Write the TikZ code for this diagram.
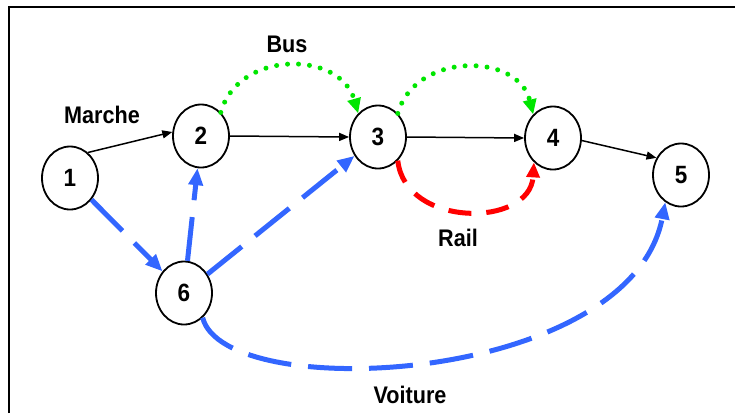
\documentclass[tikz,border=0pt]{standalone}
\usepackage{fontspec}
\setmainfont{Liberation Sans}
\usetikzlibrary{shapes.geometric,arrows.meta}

\definecolor{busgreen}{RGB}{0,230,0}
\definecolor{carblue}{RGB}{51,102,255}
\definecolor{railred}{RGB}{255,0,0}

\tikzset{
  stop/.style={ellipse, draw, line width=1.8pt, fill=white,
    minimum width=56pt, minimum height=63pt, inner sep=0pt,
    font=\fontsize{25}{25}\selectfont\bfseries},
  modelabel/.style={anchor=base, inner sep=0pt,
    font=\fontsize{24}{24}\selectfont\bfseries},
  walk/.style={line width=1.5pt, -{Triangle[length=10pt,width=8pt]}},
  busline/.style={busgreen, line width=5pt, line cap=round,
    dash pattern=on 0pt off 11pt, -{Triangle[length=15pt,width=13pt]}},
  railline/.style={railred, line width=5pt,
    dash pattern=on 23pt off 15pt, -{Triangle[length=15pt,width=13pt]}},
  carline/.style={carblue, line width=5pt,
    dash pattern=on 44pt off 17pt, -{Triangle[length=17pt,width=14pt]}}
}

\newcommand{\narrow}[1]{\scalebox{0.9}[1]{#1}}

\begin{document}
\begin{tikzpicture}[x=1pt, y=-1pt]
  \useasboundingbox (0,0) rectangle (735,413);

  % frame (top and left edges only)
  \draw[line width=2pt] (9,413) -- (9,7) -- (735,7);

  % stops
  \node[stop] (n1) at (70,178) {\narrow{1}};
  \node[stop] (n2) at (201,136) {\narrow{2}};
  \node[stop] (n3) at (378,137) {\narrow{3}};
  \node[stop] (n4) at (553,138) {\narrow{4}};
  \node[stop] (n5) at (681,175) {\narrow{5}};
  \node[stop] (n6) at (184,293) {\narrow{6}};

  % mode labels
  \node[modelabel] (lmarche) at (102,123) {\narrow{Marche}};
  \node[modelabel] (lbus) at (287,52) {\narrow{Bus}};
  \node[modelabel] (lrail) at (458,246) {\narrow{Rail}};
  \node[modelabel] (lvoiture) at (410,403) {\narrow{Voiture}};

  % walking links
  \draw[walk] (n1.55) -- (n2.172);
  \draw[walk] (n2.east) -- (n3.west);
  \draw[walk] (n3.east) -- (n4.west);
  \draw[walk] (n4.355) -- (n5.145);

  % bus links
  \draw[busline] (n2.50) .. controls (238,50) and (340,50) .. (n3.130);
  \draw[busline] (n3.50) .. controls (415,52) and (518,52) .. (n4.130);

  % rail link
  \draw[railline] (n3.-50) .. controls (405,228) and (530,228) .. (n4.-128);

  % car links
  \draw[carline] (n1) -- (n6);
  \draw[carline] (n6) -- (n2);
  \draw[carline] (n6) -- (n3);
  \draw[carline] (n6.-53) .. controls (225,405) and (630,385) .. (n5.-120);
\end{tikzpicture}
\end{document}
